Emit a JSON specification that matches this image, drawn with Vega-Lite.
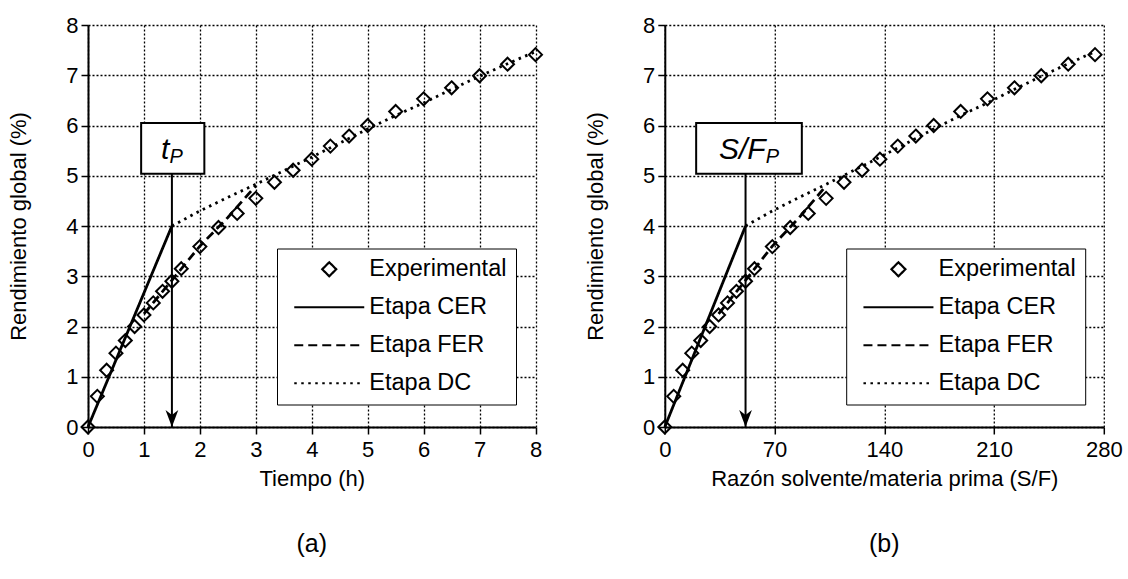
{
  "$schema": "https://vega.github.io/schema/vega-lite/v6.json",
  "padding": {"left": 7, "top": 14, "right": 5, "bottom": 5},
  "background": "white",
  "config": {
    "font": "Liberation Sans",
    "view": {"stroke": null},
    "axis": {"labelFont": "Liberation Sans", "labelFontSize": 22, "labelColor": "#000", "labelFlush": false, "titleFont": "Liberation Sans", "titleFontSize": 22, "titleFontWeight": "normal", "titleColor": "#000", "domainColor": "#000", "domainWidth": 2, "tickColor": "#000", "tickWidth": 1.5, "tickSize": 7, "gridColor": "#000", "gridDash": [2, 2], "gridWidth": 1.3, "gridOpacity": 1, "labelPadding": 3},
    "axisY": {"titlePadding": 35},
    "axisX": {"titlePadding": 8, "labelPadding": 5},
    "title": {"font": "Liberation Sans", "fontSize": 25, "fontWeight": "normal", "color": "#000"},
    "legend": {"title": null, "labelFont": "Liberation Sans", "labelFontSize": 23.5, "labelColor": "#000", "symbolSize": 100, "symbolOffset": 31.5, "labelOffset": 28.3, "rowPadding": 13, "padding": 9, "strokeColor": "#000", "fillColor": "white", "symbolStrokeWidth": 2.2, "symbolStrokeColor": "#000", "symbolFillColor": "transparent", "symbolOpacity": 1}
  },
  "datasets": {
    "expA": [
      {"serie": "Experimental", "x": 0, "y": 0}, {"serie": "Experimental", "x": 0.167, "y": 0.61}, {"serie": "Experimental", "x": 0.333, "y": 1.13}, {"serie": "Experimental", "x": 0.5, "y": 1.47}, {"serie": "Experimental", "x": 0.667, "y": 1.72}, {"serie": "Experimental", "x": 0.833, "y": 2.0}, {"serie": "Experimental", "x": 1.0, "y": 2.23}, {"serie": "Experimental", "x": 1.167, "y": 2.47}, {"serie": "Experimental", "x": 1.333, "y": 2.7}, {"serie": "Experimental", "x": 1.5, "y": 2.9}, {"serie": "Experimental", "x": 1.667, "y": 3.15}, {"serie": "Experimental", "x": 2.0, "y": 3.59}, {"serie": "Experimental", "x": 2.333, "y": 3.97}, {"serie": "Experimental", "x": 2.667, "y": 4.25}, {"serie": "Experimental", "x": 3.0, "y": 4.55}, {"serie": "Experimental", "x": 3.333, "y": 4.87}, {"serie": "Experimental", "x": 3.667, "y": 5.11}, {"serie": "Experimental", "x": 4.0, "y": 5.33}, {"serie": "Experimental", "x": 4.333, "y": 5.59}, {"serie": "Experimental", "x": 4.667, "y": 5.79}, {"serie": "Experimental", "x": 5.0, "y": 6.0}, {"serie": "Experimental", "x": 5.5, "y": 6.28}, {"serie": "Experimental", "x": 6.0, "y": 6.53}, {"serie": "Experimental", "x": 6.5, "y": 6.75}, {"serie": "Experimental", "x": 7.0, "y": 6.99}, {"serie": "Experimental", "x": 7.5, "y": 7.22}, {"serie": "Experimental", "x": 8.0, "y": 7.41}
    ],
    "linesA": [
      {"serie": "Etapa CER", "x": 0, "y": 0}, {"serie": "Etapa CER", "x": 1.5, "y": 4.0},
      {"serie": "Etapa FER", "x": 1.0, "y": 2.25}, {"serie": "Etapa FER", "x": 1.5, "y": 2.92}, {"serie": "Etapa FER", "x": 2.0, "y": 3.6}, {"serie": "Etapa FER", "x": 2.5, "y": 4.17}, {"serie": "Etapa FER", "x": 3.0, "y": 4.8},
      {"serie": "Etapa DC", "x": 1.5, "y": 4.0}, {"serie": "Etapa DC", "x": 2.0, "y": 4.3}, {"serie": "Etapa DC", "x": 2.5, "y": 4.57}, {"serie": "Etapa DC", "x": 3.0, "y": 4.83}, {"serie": "Etapa DC", "x": 3.5, "y": 5.1}, {"serie": "Etapa DC", "x": 4.0, "y": 5.37}, {"serie": "Etapa DC", "x": 4.5, "y": 5.65}, {"serie": "Etapa DC", "x": 5.0, "y": 5.93}, {"serie": "Etapa DC", "x": 5.5, "y": 6.2}, {"serie": "Etapa DC", "x": 6.0, "y": 6.45}, {"serie": "Etapa DC", "x": 6.5, "y": 6.72}, {"serie": "Etapa DC", "x": 7.0, "y": 6.98}, {"serie": "Etapa DC", "x": 7.5, "y": 7.23}, {"serie": "Etapa DC", "x": 8.0, "y": 7.47}
    ],
    "boxA": [{"x": 0.95, "x2": 2.08, "y": 5.04, "y2": 6.05}],
    "arrowA": [{"x": 1.5, "y": 5.04, "y2": 0}],
    "headA": [{"x": 1.5, "y": 0}],
    "labelA": [{"x": 1.5, "y": 5.55, "main": "t", "sub": "P"}],
    "expB": [
      {"serie": "Experimental", "x": 0, "y": 0}, {"serie": "Experimental", "x": 5.7, "y": 0.61}, {"serie": "Experimental", "x": 11.4, "y": 1.13}, {"serie": "Experimental", "x": 17.2, "y": 1.47}, {"serie": "Experimental", "x": 22.9, "y": 1.72}, {"serie": "Experimental", "x": 28.6, "y": 2.0}, {"serie": "Experimental", "x": 34.3, "y": 2.23}, {"serie": "Experimental", "x": 40.0, "y": 2.47}, {"serie": "Experimental", "x": 45.7, "y": 2.7}, {"serie": "Experimental", "x": 51.5, "y": 2.9}, {"serie": "Experimental", "x": 57.2, "y": 3.15}, {"serie": "Experimental", "x": 68.6, "y": 3.59}, {"serie": "Experimental", "x": 80.0, "y": 3.97}, {"serie": "Experimental", "x": 91.5, "y": 4.25}, {"serie": "Experimental", "x": 102.9, "y": 4.55}, {"serie": "Experimental", "x": 114.3, "y": 4.87}, {"serie": "Experimental", "x": 125.8, "y": 5.11}, {"serie": "Experimental", "x": 137.2, "y": 5.33}, {"serie": "Experimental", "x": 148.6, "y": 5.59}, {"serie": "Experimental", "x": 160.1, "y": 5.79}, {"serie": "Experimental", "x": 171.5, "y": 6.0}, {"serie": "Experimental", "x": 188.7, "y": 6.28}, {"serie": "Experimental", "x": 205.8, "y": 6.53}, {"serie": "Experimental", "x": 223.0, "y": 6.75}, {"serie": "Experimental", "x": 240.1, "y": 6.99}, {"serie": "Experimental", "x": 257.3, "y": 7.22}, {"serie": "Experimental", "x": 274.4, "y": 7.41}
    ],
    "linesB": [
      {"serie": "Etapa CER", "x": 0, "y": 0}, {"serie": "Etapa CER", "x": 51.5, "y": 4.0},
      {"serie": "Etapa FER", "x": 34.3, "y": 2.25}, {"serie": "Etapa FER", "x": 51.5, "y": 2.92}, {"serie": "Etapa FER", "x": 68.6, "y": 3.6}, {"serie": "Etapa FER", "x": 85.8, "y": 4.17}, {"serie": "Etapa FER", "x": 102.9, "y": 4.8},
      {"serie": "Etapa DC", "x": 51.5, "y": 4.0}, {"serie": "Etapa DC", "x": 68.6, "y": 4.3}, {"serie": "Etapa DC", "x": 85.8, "y": 4.57}, {"serie": "Etapa DC", "x": 102.9, "y": 4.83}, {"serie": "Etapa DC", "x": 120.1, "y": 5.1}, {"serie": "Etapa DC", "x": 137.2, "y": 5.37}, {"serie": "Etapa DC", "x": 154.4, "y": 5.65}, {"serie": "Etapa DC", "x": 171.5, "y": 5.93}, {"serie": "Etapa DC", "x": 188.7, "y": 6.2}, {"serie": "Etapa DC", "x": 205.8, "y": 6.45}, {"serie": "Etapa DC", "x": 223.0, "y": 6.72}, {"serie": "Etapa DC", "x": 240.1, "y": 6.98}, {"serie": "Etapa DC", "x": 257.3, "y": 7.23}, {"serie": "Etapa DC", "x": 274.4, "y": 7.47}
    ],
    "boxB": [{"x": 20.0, "x2": 87.4, "y": 5.04, "y2": 6.05}],
    "arrowB": [{"x": 51.5, "y": 5.04, "y2": 0}],
    "headB": [{"x": 51.5, "y": 0}],
    "labelB": [{"x": 53.7, "y": 5.55, "main": "S/F", "sub": "P"}]
  },
  "resolve": {"scale": {"strokeDash": "independent", "shape": "independent"}, "legend": {"strokeDash": "independent", "shape": "independent"}},
  "spacing": 128.8,
  "bounds": "flush",
  "hconcat": [
    {
      "width": 447.5,
      "height": 402,
      "title": {"text": "(a)", "orient": "bottom", "offset": 43},
      "encoding": {
        "x": {"field": "x", "type": "quantitative", "scale": {"domain": [0, 8], "nice": false}, "axis": {"values": [0, 1, 2, 3, 4, 5, 6, 7, 8], "title": "Tiempo (h)"}},
        "y": {"field": "y", "type": "quantitative", "scale": {"domain": [0, 8], "nice": false}, "axis": {"values": [0, 1, 2, 3, 4, 5, 6, 7, 8], "title": "Rendimiento global (%)"}}
      },
      "layer": [
        {
          "data": {"name": "linesA"},
          "mark": {"type": "line", "color": "#000", "strokeWidth": 2.8},
          "encoding": {
            "strokeDash": {
              "field": "serie", "type": "nominal",
              "scale": {"domain": ["Experimental", "Etapa CER", "Etapa FER", "Etapa DC"], "range": [[1, 0], [1, 0], [9, 5], [2.5, 4.5]]},
              "legend": {"orient": "none", "legendX": 189, "legendY": 223.5}
            }
          }
        },
        {
          "data": {"name": "expA"},
          "mark": {"type": "point", "size": 86, "filled": false, "stroke": "#000", "strokeWidth": 2, "opacity": 1},
          "encoding": {
            "shape": {
              "field": "serie", "type": "nominal",
              "scale": {"domain": ["Experimental", "Etapa CER", "Etapa FER", "Etapa DC"], "range": ["M0,-1.4L1.4,0L0,1.4L-1.4,0Z", "M-7,0L7,0", "M-7,0L7,0", "M-7,0L7,0"]},
              "legend": {"orient": "none", "legendX": 189, "legendY": 223.5}
            }
          }
        },
        {
          "data": {"name": "boxA"},
          "mark": {"type": "rect", "fill": "white", "stroke": "#000", "strokeWidth": 2},
          "encoding": {"x2": {"field": "x2"}, "y2": {"field": "y2"}}
        },
        {
          "data": {"name": "arrowA"},
          "mark": {"type": "rule", "color": "#000", "strokeWidth": 2},
          "encoding": {"y2": {"field": "y2"}}
        },
        {
          "data": {"name": "headA"},
          "mark": {"type": "point", "shape": "M0,0L-0.75,-2L0,-1.4L0.75,-2Z", "size": 289, "filled": true, "color": "#000", "opacity": 1}
        },
        {
          "data": {"name": "labelA"},
          "mark": {"type": "text", "align": "right", "baseline": "alphabetic", "dx": -2.5, "dy": 11, "fontSize": 30, "fontStyle": "italic", "color": "#000"},
          "encoding": {"text": {"field": "main"}}
        },
        {
          "data": {"name": "labelA"},
          "mark": {"type": "text", "align": "left", "baseline": "alphabetic", "dx": -2.5, "dy": 15, "fontSize": 20, "fontStyle": "italic", "color": "#000"},
          "encoding": {"text": {"field": "sub"}}
        }
      ]
    },
    {
      "width": 439,
      "height": 402,
      "title": {"text": "(b)", "orient": "bottom", "offset": 43},
      "encoding": {
        "x": {"field": "x", "type": "quantitative", "scale": {"domain": [0, 280], "nice": false}, "axis": {"values": [0, 70, 140, 210, 280], "title": "Razón solvente/materia prima (S/F)"}},
        "y": {"field": "y", "type": "quantitative", "scale": {"domain": [0, 8], "nice": false}, "axis": {"values": [0, 1, 2, 3, 4, 5, 6, 7, 8], "title": "Rendimiento global (%)"}}
      },
      "layer": [
        {
          "data": {"name": "linesB"},
          "mark": {"type": "line", "color": "#000", "strokeWidth": 2.8},
          "encoding": {
            "strokeDash": {
              "field": "serie", "type": "nominal",
              "scale": {"domain": ["Experimental", "Etapa CER", "Etapa FER", "Etapa DC"], "range": [[1, 0], [1, 0], [9, 5], [2.5, 4.5]]},
              "legend": {"orient": "none", "legendX": 181.4, "legendY": 223.5}
            }
          }
        },
        {
          "data": {"name": "expB"},
          "mark": {"type": "point", "size": 86, "filled": false, "stroke": "#000", "strokeWidth": 2, "opacity": 1},
          "encoding": {
            "shape": {
              "field": "serie", "type": "nominal",
              "scale": {"domain": ["Experimental", "Etapa CER", "Etapa FER", "Etapa DC"], "range": ["M0,-1.4L1.4,0L0,1.4L-1.4,0Z", "M-7,0L7,0", "M-7,0L7,0", "M-7,0L7,0"]},
              "legend": {"orient": "none", "legendX": 181.4, "legendY": 223.5}
            }
          }
        },
        {
          "data": {"name": "boxB"},
          "mark": {"type": "rect", "fill": "white", "stroke": "#000", "strokeWidth": 2},
          "encoding": {"x2": {"field": "x2"}, "y2": {"field": "y2"}}
        },
        {
          "data": {"name": "arrowB"},
          "mark": {"type": "rule", "color": "#000", "strokeWidth": 2},
          "encoding": {"y2": {"field": "y2"}}
        },
        {
          "data": {"name": "headB"},
          "mark": {"type": "point", "shape": "M0,0L-0.75,-2L0,-1.4L0.75,-2Z", "size": 289, "filled": true, "color": "#000", "opacity": 1}
        },
        {
          "data": {"name": "labelB"},
          "mark": {"type": "text", "align": "right", "baseline": "alphabetic", "dx": 16.7, "dy": 11, "fontSize": 30, "fontStyle": "italic", "color": "#000"},
          "encoding": {"text": {"field": "main"}}
        },
        {
          "data": {"name": "labelB"},
          "mark": {"type": "text", "align": "left", "baseline": "alphabetic", "dx": 16.7, "dy": 15, "fontSize": 20, "fontStyle": "italic", "color": "#000"},
          "encoding": {"text": {"field": "sub"}}
        }
      ]
    }
  ]
}
